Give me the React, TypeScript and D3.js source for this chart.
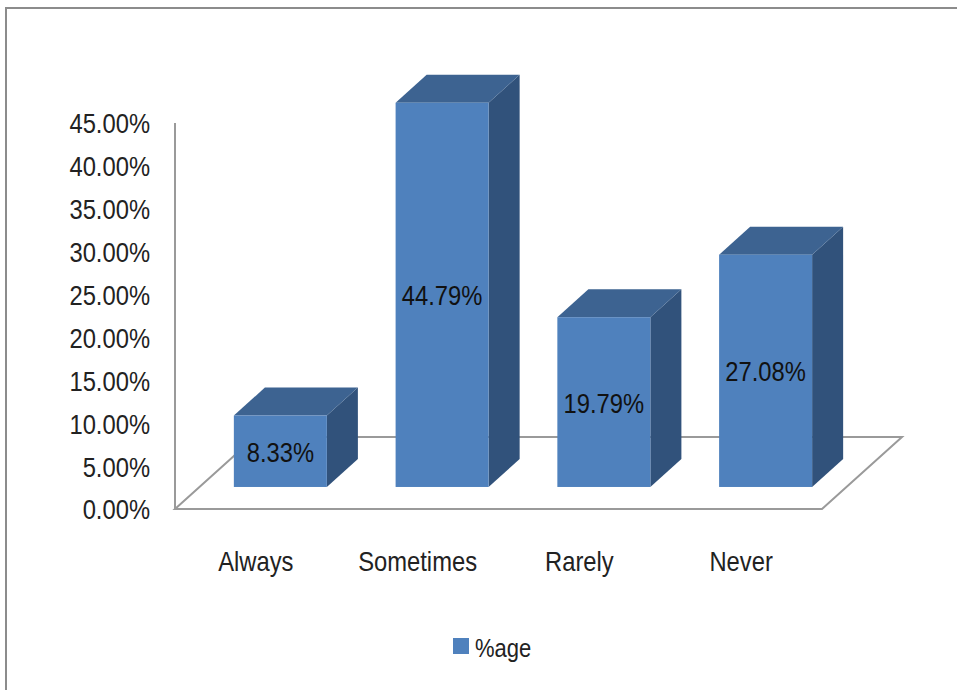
import React from "react";
import * as d3 from "d3";

// Responses and their share of respondents
const categories = ["Always", "Sometimes", "Rarely", "Never"];
const values = [8.33, 44.79, 19.79, 27.08];
const yTicks = [0, 5, 10, 15, 20, 25, 30, 35, 40, 45];
const seriesName = "%age";

const W = 957;
const H = 690;

// Floor front edge and the 3D depth vector of the plot
const floorLeft = 175;
const floorRight = 822;
const floorY = 509;
const depthX = 80;
const depthY = -72;
const axisHeight = 386;
// Bars occupy the middle slice of the floor depth
const barFront = 0.306;
const barBack = 0.694;

const FONT = "'Liberation Sans', Arial, sans-serif";
const FRONT = "#4F81BD";
const TOP = "#3D6391";
const SIDE = "#31527B";
const LINE = "#9a9a9a";
const SQUEEZE = 0.88;

type LabelProps = {
  x: number;
  y: number;
  size: number;
  anchor?: "start" | "middle" | "end";
  dy?: string;
  fill?: string;
  children: React.ReactNode;
};

// Slightly condensed text, as the chart's typeface is narrow
function Label({ x, y, size, anchor = "start", dy, fill = "#222", children }: LabelProps) {
  return (
    <text
      transform={`translate(${x},${y}) scale(${SQUEEZE},1)`}
      dy={dy}
      textAnchor={anchor}
      fontFamily={FONT}
      fontSize={size}
      fill={fill}
    >
      {children}
    </text>
  );
}

export default function App() {
  const x = d3
    .scaleBand<string>()
    .domain(categories)
    .range([floorLeft, floorRight])
    .paddingInner(0.425)
    .paddingOuter(0.2125);
  const y = d3.scaleLinear().domain([0, 45]).range([0, axisHeight]);

  const fx = depthX * barFront;
  const fy = depthY * barFront;
  const bx = depthX * barBack;
  const by = depthY * barBack;
  const bw = x.bandwidth();

  const pts = (p: number[][]) => p.map((q) => q.join(",")).join(" ");

  return (
    <div style={{ position: "fixed", left: 0, top: 0 }}>
      <svg width={W} height={H} style={{ display: "block", background: "#fff" }}>
        <rect x={6} y={8} width={1000} height={800} fill="#fff" stroke="#8c8c8c" strokeWidth={2} />

        {/* floor */}
        <polygon
          points={pts([
            [floorLeft, floorY],
            [floorRight, floorY],
            [floorRight + depthX, floorY + depthY],
            [floorLeft + depthX, floorY + depthY],
          ])}
          fill="none"
          stroke={LINE}
          strokeWidth={2}
        />
        {/* value axis */}
        <line x1={floorLeft} x2={floorLeft} y1={floorY - y(45)} y2={floorY} stroke={LINE} strokeWidth={2} />

        {yTicks.map((t) => (
          <Label key={t} x={150} y={floorY - y(t) + 1} dy="0.35em" anchor="end" size={27}>
            {t.toFixed(2)}%
          </Label>
        ))}

        {categories.map((c, i) => {
          const x0 = (x(c) as number) + fx;
          const x1 = x0 + bw;
          const yb = floorY + fy;
          const yt = yb - y(values[i]);
          const dxs = bx - fx;
          const dys = by - fy;
          return (
            <g key={c}>
              <polygon
                points={pts([
                  [x1, yb],
                  [x1 + dxs, yb + dys],
                  [x1 + dxs, yt + dys],
                  [x1, yt],
                ])}
                fill={SIDE}
              />
              <polygon
                points={pts([
                  [x0, yt],
                  [x1, yt],
                  [x1 + dxs, yt + dys],
                  [x0 + dxs, yt + dys],
                ])}
                fill={TOP}
              />
              <rect x={x0} y={yt} width={bw} height={yb - yt} fill={FRONT} />
              <Label x={x0 + bw / 2} y={(yt + yb) / 2 + 1} dy="0.35em" anchor="middle" size={27} fill="#111">
                {values[i].toFixed(2)}%
              </Label>
              <Label x={(x(c) as number) + bw / 2} y={571} anchor="middle" size={27}>
                {c}
              </Label>
            </g>
          );
        })}

        {/* legend */}
        <rect x={453} y={638} width={16} height={16} fill={FRONT} />
        <Label x={475} y={657} size={25}>
          {seriesName}
        </Label>
      </svg>
    </div>
  );
}
